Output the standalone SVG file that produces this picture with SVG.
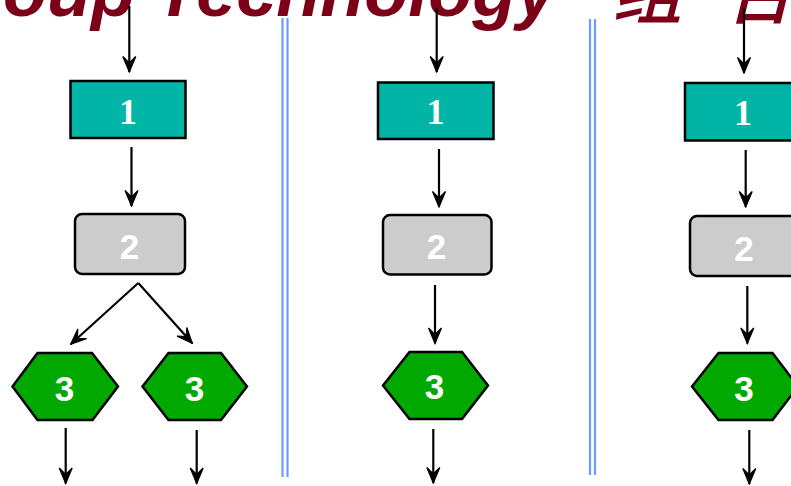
<svg xmlns="http://www.w3.org/2000/svg" width="791" height="486" viewBox="0 0 791 486">
  <defs>
    <marker id="arrow" markerUnits="userSpaceOnUse" markerWidth="18" markerHeight="16" viewBox="0 0 18 16" refX="17" refY="8" orient="auto">
      <path d="M1.5,1.5 L17,8 L1.5,14.5 L8,8 Z" fill="#000" stroke="#000" stroke-width="1.2" stroke-linejoin="miter"/>
    </marker>
  </defs>
  <style>
    .title { font-family: "Liberation Sans", Arial, sans-serif; font-size: 72px; font-weight: bold; font-style: italic; fill: #7B0018; }
    .cjk { font-family: "Noto Sans CJK SC", sans-serif; font-size: 70px; font-weight: 500; font-style: italic; fill: #7B0018; }
    .divider { stroke: #6E9BFF; stroke-width: 2.2; fill: none; }
    .op1 rect { fill: #00B5A5; stroke: #000; stroke-width: 2.5; }
    .op2 rect { fill: #CCCCCC; stroke: #000; stroke-width: 2.5; }
    .op3 polygon { fill: #00A800; stroke: #000; stroke-width: 2.5; stroke-linejoin: miter; }
    .lbl1 { font-family: "Liberation Serif", "Times New Roman", serif; font-size: 36px; font-weight: bold; fill: #fff; text-anchor: middle; }
    .lbl { font-family: "Liberation Sans", Arial, sans-serif; font-size: 35px; font-weight: bold; fill: #fff; text-anchor: middle; }
    .conn line { stroke: #000; stroke-width: 2.2; marker-end: url(#arrow); }
  </style>

  <rect x="0" y="0" width="791" height="486" fill="#fff"/>

  <!-- heading, partly outside the frame -->
  <g id="title">
    <text class="title" x="-81" y="16">Group Technology</text>
    <text class="cjk" x="612" y="18">组</text>
    <text class="cjk" x="724" y="18">合</text>
  </g>

  <!-- column separators -->
  <g id="dividers">
    <line class="divider" x1="282.5" y1="18" x2="282.5" y2="477"/>
    <line class="divider" x1="287.5" y1="18" x2="287.5" y2="477"/>
    <line class="divider" x1="590" y1="19" x2="590" y2="475"/>
    <line class="divider" x1="595" y1="19" x2="595" y2="475"/>
  </g>

  <!-- column 1 -->
  <g id="c1-op1" class="op1">
    <rect x="70.5" y="81" width="115" height="57"/>
    <text class="lbl1" x="128" y="123.5">1</text>
  </g>
  <g id="c1-op2" class="op2">
    <rect x="75" y="214" width="110" height="60" rx="7"/>
    <text class="lbl" x="129.5" y="258.5">2</text>
  </g>
  <g id="c1-op3a" class="op3">
    <polygon points="12.5,386.5 37.5,353 92,353 118,386.5 92.5,420 37.5,420"/>
    <text class="lbl" x="64.5" y="400.5">3</text>
  </g>
  <g id="c1-op3b" class="op3">
    <polygon points="142.5,386.5 168.5,353 221,353 247,386.5 221,420 168.5,420"/>
    <text class="lbl" x="194.5" y="400.5">3</text>
  </g>

  <!-- column 2 -->
  <g id="c2-op1" class="op1">
    <rect x="378" y="82.5" width="115.5" height="56.5"/>
    <text class="lbl1" x="435.5" y="124">1</text>
  </g>
  <g id="c2-op2" class="op2">
    <rect x="383" y="215" width="108.5" height="59.5" rx="7"/>
    <text class="lbl" x="436.5" y="259">2</text>
  </g>
  <g id="c2-op3" class="op3">
    <polygon points="383,385.5 409.5,352 462,352 488,385.5 462,419 409.5,419"/>
    <text class="lbl" x="434.5" y="399">3</text>
  </g>

  <!-- column 3 -->
  <g id="c3-op1" class="op1">
    <rect x="685" y="83" width="117" height="57.5"/>
    <text class="lbl1" x="743" y="125">1</text>
  </g>
  <g id="c3-op2" class="op2">
    <rect x="690" y="216" width="110" height="60" rx="7"/>
    <text class="lbl" x="744" y="260.5">2</text>
  </g>
  <g id="c3-op3" class="op3">
    <polygon points="692,386.5 718.5,353 772.5,353 798,386.5 772.5,420 718.5,420"/>
    <text class="lbl" x="744" y="400.5">3</text>
  </g>

  <!-- flow arrows -->
  <g id="connectors" class="conn">
    <line x1="129.3" y1="6" x2="129.3" y2="72"/>
    <line x1="131.5" y1="147" x2="131.5" y2="206"/>
    <line x1="138.3" y1="283" x2="70.7" y2="344.3"/>
    <line x1="138.3" y1="283" x2="192.3" y2="343.3"/>
    <line x1="65.7" y1="428" x2="65.7" y2="483.5"/>
    <line x1="196.7" y1="430" x2="196.7" y2="483.5"/>

    <line x1="436.7" y1="8" x2="436.7" y2="72"/>
    <line x1="439" y1="149" x2="439" y2="207"/>
    <line x1="435" y1="285" x2="435" y2="343.5"/>
    <line x1="433.3" y1="429" x2="433.3" y2="483"/>

    <line x1="744" y1="8" x2="744" y2="73"/>
    <line x1="745.7" y1="150" x2="745.7" y2="207"/>
    <line x1="747.3" y1="286" x2="747.3" y2="343.5"/>
    <line x1="749.3" y1="430" x2="749.3" y2="484"/>
  </g>
</svg>
